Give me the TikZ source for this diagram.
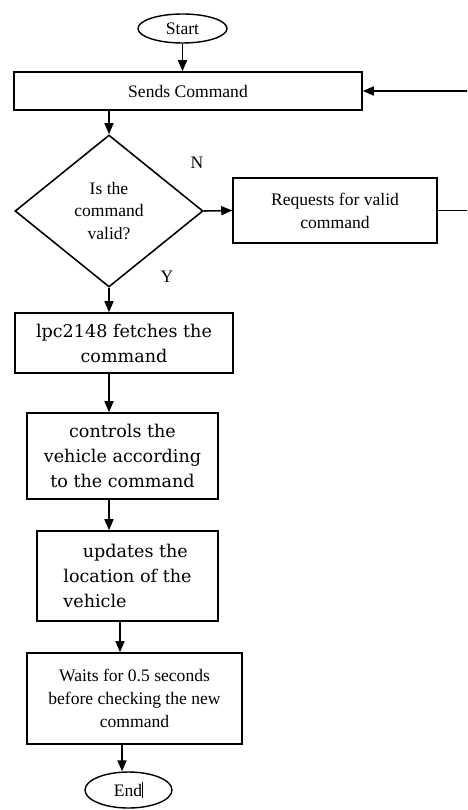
\documentclass[tikz,border=0pt]{standalone}
\usepackage{fontspec}
\setmainfont{Liberation Serif}
\newfontfamily\wideserif{DejaVu Serif}
\usetikzlibrary{arrows.meta,positioning,calc,shapes.geometric}
\tikzset{
  procbox/.style={draw=black, line width=0.9pt, fill=white, inner sep=2pt,
                  align=center, font=\fontsize{10}{13}\selectfont},
  widebox/.style={procbox, font=\wideserif\fontsize{10}{14.2}\selectfont},
  termbox/.style={ellipse, draw=black, line width=0.8pt, inner sep=0pt,
                  font=\fontsize{10}{13}\selectfont},
  decbox/.style={diamond, draw=black, line width=0.9pt, inner sep=0pt, aspect=1.24,
                 minimum width=3.76cm, minimum height=3.04cm, align=center,
                 font=\fontsize{10}{13}\selectfont},
  lbl/.style={font=\fontsize{10}{13}\selectfont},
  arr/.style={-{Triangle[length=2.2mm, width=1.8mm]}, line width=0.9pt}}
\begin{document}
\begin{tikzpicture}
  \clip (0,0) rectangle (9.34,-16.2);
  \fill[white] (0,0) rectangle (9.34,-16.2);
  \node[termbox, minimum width=1.78cm, minimum height=0.58cm] (start) at (3.65,-0.57) {Start};
  \node[procbox, minimum width=6.96cm, minimum height=0.76cm] (sends) at (3.76,-1.82) {Sends Command};
  \node[decbox] (dia) at (2.18,-4.22) {Is the\\command\\valid?};
  \node[procbox, minimum width=4.08cm, minimum height=1.30cm] (req) at (6.70,-4.21)
    {Requests for valid\\command};
  \node[widebox, minimum width=4.36cm, minimum height=1.2cm] (lpc) at (2.48,-6.86)
    {lpc2148 fetches the\\command};
  \node[widebox, minimum width=3.82cm, minimum height=1.72cm] (ctrl) at (2.45,-9.12)
    {controls the\\vehicle according\\to the command};
  \node[widebox, align=left, minimum width=3.62cm, minimum height=1.8cm] (upd) at (2.55,-11.52)
    {\hspace*{1.1em}updates the\\location of the\\vehicle};
  \node[procbox, minimum width=4.30cm, minimum height=1.82cm] (wait) at (2.69,-13.97)
    {Waits for 0.5 seconds\\before checking the new\\command};
  \node[termbox, minimum width=1.74cm, minimum height=0.72cm] (endn) at (2.57,-15.8)
    {End\rule[-1pt]{0.6pt}{9pt}};
  % decision labels
  \node[lbl] (nlbl) at (3.94,-3.26) {N};
  \node[lbl] (ylbl) at (3.34,-5.54) {Y};
  % flow
  \draw[arr] (start.south) -- (start.south |- sends.north);
  \draw[arr] (sends.south -| dia.north) -- (dia.north);
  \draw[arr] (dia.east) -- (req.west);
  \draw[arr] (req.east) -- ++(0.8,0) |- (sends.east);
  \draw[arr] (dia.south) -- (dia.south |- lpc.north);
  \draw[arr] (lpc.south -| dia.south) -- (ctrl.north -| dia.south);
  \draw[arr] (ctrl.south -| dia.south) -- (upd.north -| dia.south);
  \draw[arr] ([xshift=-0.15cm]upd.south) -- ([xshift=-0.15cm]upd.south |- wait.north);
  \draw[arr] ([xshift=-0.25cm]wait.south) -- ([xshift=-0.25cm]wait.south |- endn.north);
\end{tikzpicture}
\end{document}
